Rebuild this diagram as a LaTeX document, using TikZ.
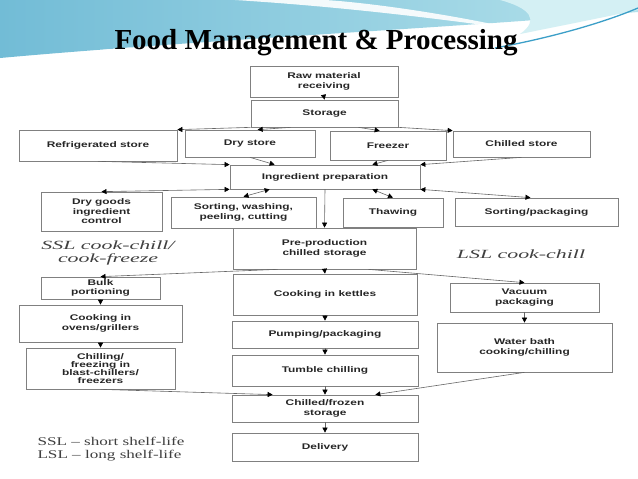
\documentclass[tikz,border=0pt]{standalone}
\usepackage{fontspec}
\setmainfont{Liberation Serif}
\newfontfamily\boxfont[FakeStretch=1.45]{Liberation Sans}
\newfontfamily\notefont[FakeStretch=1.45]{Liberation Serif}
\newfontfamily\ssllabelfont[FakeStretch=1.75]{Liberation Serif}
\usepackage{xcolor}
\usepackage{tikz}
\usetikzlibrary{arrows.meta}
\definecolor{skyA}{HTML}{72BCD6}
\definecolor{skyB}{HTML}{B3E1EB}
\definecolor{skyC}{HTML}{D4F0F4}
\definecolor{skyD}{HTML}{3C9FC8}
\begin{document}
\begin{tikzpicture}[x=1pt, y=-1pt, >={Triangle[length=5pt, width=5pt, color=black]},
    box/.style={draw=black!50, line width=0.7pt, fill=white, inner sep=0pt, align=center,
      text=black!85, font=\boxfont\bfseries\fontsize{8.2}{9.5}\selectfont},
    sz/.style 2 args={minimum width=#1pt, minimum height=#2pt},
    link/.style={->, draw=black!60, line width=0.6pt},
    both/.style={<->, draw=black!60, line width=0.6pt},
    note/.style={text=black!75, align=center, font=\ssllabelfont\itshape\fontsize{12.5}{13}\selectfont}]
  \useasboundingbox (0,0) rectangle (638,479);
  \fill[white] (0,0) rectangle (638,479);
  \shade[left color=skyA, right color=skyB] (0,0) -- (638,0) -- (638,12)
        .. controls (450,28) and (200,40) .. (0,58) -- cycle;
  \fill[skyC] (500,0) -- (638,0) -- (638,10) .. controls (600,18) and (560,26) .. (520,34)
        .. controls (540,20) and (530,8) .. (500,0) -- cycle;
  \fill[white, opacity=0.9] (235,0) .. controls (330,6) and (420,16) .. (520,30)
        .. controls (440,12) and (360,2) .. (325,0) -- cycle;
  \draw[skyD, line width=1.3pt] (495,48) .. controls (560,36) and (610,20) .. (638,8);
  \draw[white, line width=0.8pt] (20,62) .. controls (60,55) and (100,50) .. (130,48);

  \node[anchor=base, font=\bfseries\fontsize{29}{34}\selectfont] (title) at (316,49)
        {Food Management \& Processing};

  \node[box, sz={148}{31}] (raw) at (324,81.5) {Raw material\\receiving};
  \node[box, sz={147}{27}] (store) at (324.5,113.5) {Storage};
  \node[box, sz={158}{31}] (refr) at (98,145.5) {Refrigerated store};
  \node[box, sz={130}{27}] (dry) at (250,143.5) {Dry store};
  \node[box, sz={116}{29}] (freezer) at (388,145.5) {Freezer};
  \node[box, sz={137}{26}] (chilled) at (521.5,144) {Chilled store};
  \node[box, sz={190}{24}] (ingred) at (325,177) {Ingredient preparation};
  \node[box, sz={121}{39}] (drygoods) at (101.5,211.5) {Dry goods\\ingredient\\control};
  \node[box, sz={145}{31}] (sortwash) at (243.5,212.5) {Sorting, washing,\\peeling, cutting};
  \node[box, sz={100}{29}] (thaw) at (393,212.5) {Thawing};
  \node[box, sz={163}{28}] (sortpack) at (536.5,212) {Sorting/packaging};
  \node[box, sz={183}{41}] (preprod) at (324.5,248.5) {Pre-production\\chilled storage};
  \node[box, sz={184}{41}] (kettles) at (325,294.5) {Cooking in kettles};
  \node[box, sz={119}{22}] (bulk) at (100.5,288) {Bulk\\portioning};
  \node[box, sz={163}{37}] (ovens) at (100.5,323.5) {Cooking in\\ovens/grillers};
  \node[box, sz={149}{41}, font=\boxfont\bfseries\fontsize{8.2}{8.2}\selectfont] (chilling) at (100.5,368.5)
        {Chilling/\\freezing in\\blast-chillers/\\freezers};
  \node[box, sz={149}{29}] (vacuum) at (524.5,297.5) {Vacuum\\packaging};
  \node[box, sz={175}{49}] (water) at (524.5,347.5) {Water bath\\cooking/chilling};
  \node[box, sz={186}{27}] (pumping) at (325,334.5) {Pumping/packaging};
  \node[box, sz={186}{31}] (tumble) at (325,370.5) {Tumble chilling};
  \node[box, sz={186}{27}] (frozen) at (325,408.5) {Chilled/frozen\\storage};
  \node[box, sz={186}{28}] (delivery) at (325,447) {Delivery};

  \node[note] (ssl) at (108,253) {SSL cook-chill/\\cook-freeze};
  \node[note] (lsl) at (521,254) {LSL cook-chill};
  \node[note, anchor=west, align=left, font=\notefont\fontsize{11.8}{12.5}\selectfont] (legend)
        at (34,449) {SSL – short shelf-life\\LSL – long shelf-life};

  \draw[link] (raw.south) -- (store.north);
  \draw[link] (store.south west) -- (refr.north east);
  \draw[link] ([xshift=40pt]store.south west) -- ([xshift=73pt]dry.north west);
  \draw[link] ([xshift=-40pt]store.south east) -- ([xshift=50pt]freezer.north west);
  \draw[link] (store.south east) -- (chilled.north west);
  \draw[link] (refr.south) -- (ingred.north west);
  \draw[link] (dry.south) -- ([xshift=45pt]ingred.north west);
  \draw[link] (freezer.south) -- ([xshift=-48pt]ingred.north east);
  \draw[link] (chilled.south) -- (ingred.north east);
  \draw[both] (ingred.south west) -- (drygoods.north);
  \draw[both] ([xshift=40pt]ingred.south west) -- (sortwash.north);
  \draw[both] ([xshift=-48pt]ingred.south east) -- (thaw.north);
  \draw[both] (ingred.south east) -- ([xshift=-6pt]sortpack.north);
  \draw[link] (ingred.south) -- (preprod.north);
  \draw[link] ([xshift=45pt]preprod.south west) -- (bulk.north);
  \draw[link] (preprod.south) -- (kettles.north);
  \draw[link] ([xshift=-48pt]preprod.south east) -- (vacuum.north);
  \draw[link] (bulk.south) -- (ovens.north);
  \draw[link] (ovens.south) -- (chilling.north);
  \draw[link] (chilling.south) -- ([xshift=41pt]frozen.north west);
  \draw[link] (vacuum.south) -- (water.north);
  \draw[link] (water.south) -- ([xshift=-43pt]frozen.north east);
  \draw[link] (kettles.south) -- (pumping.north);
  \draw[link] (pumping.south) -- (tumble.north);
  \draw[link] (tumble.south) -- (frozen.north);
  \draw[link] (frozen.south) -- (delivery.north);
\end{tikzpicture}
\end{document}
